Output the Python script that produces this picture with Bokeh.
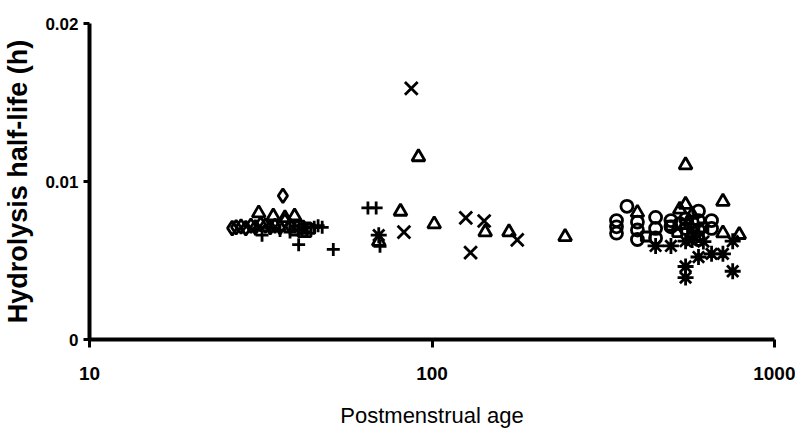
from bokeh.plotting import figure
from bokeh.models import FixedTicker, Range1d
from bokeh.embed import file_html
from bokeh.resources import INLINE

# ---- data ----
diamond_x = [26.1, 26.8, 27.7, 28.6, 29.6, 30.5, 31.6, 32.6, 33.7, 34.8, 36.0, 36.7, 37.2, 38.5]
diamond_y = [0.00705, 0.0071, 0.00715, 0.00705, 0.0072, 0.0071, 0.0073, 0.0072, 0.0071, 0.0072, 0.0071, 0.0091, 0.0075, 0.0072]

square_x = [39.7, 41.1, 41.9, 43.0, 44.1, 41.9, 43.0, 39.7, 421, 498.5, 550, 575, 520, 620, 575]
square_y = [0.0072, 0.0072, 0.0070, 0.0071, 0.0070, 0.0068, 0.0068, 0.0069, 0.00652, 0.0072, 0.0073, 0.0070, 0.0068, 0.0071, 0.0066]

plus_x = [30.5, 31.9, 33.7, 36.0, 38.5, 40.8, 45.3, 46.5, 47.8, 51.5, 65.0, 68.7, 70.5]
plus_y = [0.0070, 0.0066, 0.0071, 0.0069, 0.0068, 0.0060, 0.0071, 0.0072, 0.0071, 0.0057, 0.00833, 0.00833, 0.0059]

triangle_x = [31.2, 34.4, 37.2, 39.7, 69.9, 80.9, 91.3, 101.5, 143, 167.8, 244.7,
              397.9, 528.9, 550, 550, 575, 707, 707, 789]
triangle_y = [0.0080, 0.0078, 0.0077, 0.0078, 0.0062, 0.0081, 0.01155, 0.0073, 0.0068, 0.0068, 0.0065,
              0.00803, 0.00823, 0.00854, 0.01104, 0.0079, 0.00873, 0.00673, 0.00663]

x_x = [87.0, 82.8, 125.5, 129.6, 142, 177.4]
x_y = [0.0159, 0.0068, 0.0077, 0.0055, 0.0075, 0.0063]

circle_x = [345.7, 345.7, 345.7, 370.8, 397.9, 397.9, 397.9, 449.6, 449.6, 449.6, 498.5, 498.5,
            528.9, 550, 550, 575, 600, 600, 600, 600, 655, 655]
circle_y = [0.00753, 0.00713, 0.00673, 0.00843, 0.00743, 0.00693, 0.00633, 0.00773, 0.00703, 0.00643, 0.00753, 0.00713,
            0.00733, 0.00763, 0.00703, 0.00743, 0.00813, 0.00753, 0.00693, 0.00633, 0.00753, 0.00703]

asterisk_x = [69.9, 449.6, 498.5, 550, 550, 550, 600, 655, 707, 755, 755, 575, 620]
asterisk_y = [0.0066, 0.00592, 0.00592, 0.00622, 0.00462, 0.00392, 0.00522, 0.00542, 0.00542, 0.00622, 0.00432, 0.0063, 0.0062]

x_ticks = [10, 100, 1000]
y_ticks = [0, 0.01, 0.02]
y_tick_labels = {0: "0", 0.01: "0.01", 0.02: "0.02"}

x_title = "Postmenstrual age"
y_title = "Hydrolysis half-life (h)"

FONT = "Liberation Sans"

# ---- figure ----
p = figure(width=795, height=430, x_axis_type="log",
           x_range=Range1d(10, 1000), y_range=Range1d(0, 0.02),
           output_backend="svg", toolbar_location=None,
           min_border_left=87, min_border_right=21, min_border_top=23, min_border_bottom=88)
p.outline_line_color = None
p.xgrid.grid_line_color = None
p.ygrid.grid_line_color = None
p.background_fill_color = "white"
p.border_fill_color = "white"

for ax in (p.xaxis[0], p.yaxis[0]):
    ax.axis_line_width = 4
    ax.axis_line_color = "black"
    ax.major_tick_line_width = 3
    ax.major_tick_line_color = "black"
    ax.major_tick_in = 0
    ax.minor_tick_line_color = None
    ax.major_label_text_color = "black"
    ax.axis_label_text_color = "black"

p.xaxis.ticker = FixedTicker(ticks=x_ticks, minor_ticks=[])
p.xaxis.major_label_overrides = {t: str(t) for t in x_ticks}
p.xaxis.major_tick_out = 8
p.xaxis.major_label_standoff = 19
p.xaxis.major_label_text_font = FONT
p.xaxis.major_label_text_font_style = "bold"
p.xaxis.major_label_text_font_size = "19px"
p.xaxis.axis_label = x_title
p.xaxis.axis_label_text_font = FONT
p.xaxis.axis_label_text_font_style = "normal"
p.xaxis.axis_label_text_font_size = "22px"
p.xaxis.axis_label_standoff = 20

p.yaxis.ticker = FixedTicker(ticks=y_ticks, minor_ticks=[])
p.yaxis.major_label_overrides = y_tick_labels
p.yaxis.major_tick_out = 6
p.yaxis.major_label_standoff = 5
p.yaxis.major_label_text_font = FONT
p.yaxis.major_label_text_font_style = "bold"
p.yaxis.major_label_text_font_size = "17px"
p.yaxis.axis_label = y_title
p.yaxis.axis_label_text_font = FONT
p.yaxis.axis_label_text_font_style = "bold"
p.yaxis.axis_label_text_font_size = "27px"
p.yaxis.axis_label_standoff = 9

common = dict(fill_color=None, line_color="black", line_width=2.8)
p.scatter(diamond_x, diamond_y, marker="diamond", size=14, **common)
p.scatter(square_x, square_y, marker="square", size=9, **common)
p.scatter(plus_x, plus_y, marker="cross", size=13, **common)
p.scatter(triangle_x, triangle_y, marker="triangle", size=13, **common)
p.scatter(x_x, x_y, marker="x", size=18, **common)
p.scatter(circle_x, circle_y, marker="circle", size=12, **common)
p.scatter(asterisk_x, asterisk_y, marker="asterisk", size=16, **common)

open("out.html", "w").write(file_html(p, INLINE))
